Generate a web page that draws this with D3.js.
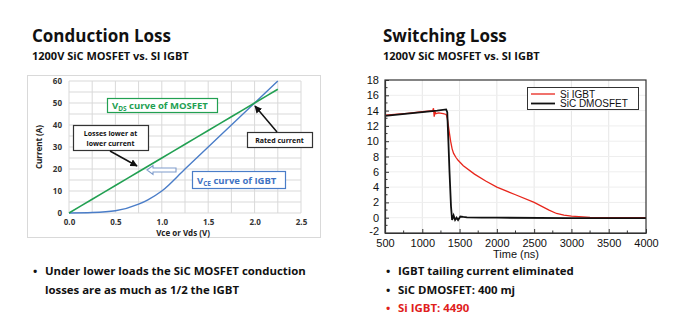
<!DOCTYPE html>
<html><head><meta charset="utf-8">
<script src="https://cdn.jsdelivr.net/npm/d3@7"></script>
<style>
body{margin:0;background:#fff;}
svg{display:block;}
</style></head>
<body>
<svg id="c" width="684" height="323"></svg>
<script>
// ---- Conduction loss data ----
const condX = [0, 0.25, 0.5, 0.75, 0.85, 1.0, 1.25, 1.5, 1.75, 2.0, 2.25];
const mosfetI = [0, 6.25, 12.5, 18.75, 21.25, 25, 31.25, 37.5, 43.75, 50, 56.25];
const igbtI = [0, 0.2, 1.0, 4.0, 6.0, 10, 20, 30, 40, 50, 60];
const condXTicks = [0, 0.5, 1.0, 1.5, 2.0, 2.5];
const condYTicks = [0, 10, 20, 30, 40, 50, 60];

// ---- Switching loss data ----
const igbtT = [500, 800, 1000, 1140, 1150, 1160, 1170, 1180, 1220, 1280, 1320, 1335, 1350, 1365, 1380, 1400, 1420, 1450, 1480, 1550, 1700, 1850, 2000, 2250, 2500, 2700, 2800, 2900, 3000, 3250, 3500, 4000];
const igbtA = [13.4, 13.65, 13.85, 14.0, 14.3, 13.2, 13.9, 13.6, 13.7, 13.6, 13.5, 13.0, 12.0, 11.0, 10.0, 9.0, 8.4, 7.9, 7.5, 6.8, 5.7, 4.8, 4.0, 3.0, 2.0, 1.0, 0.55, 0.35, 0.2, 0.05, 0.0, 0.0];
const sicT = [500, 800, 1000, 1200, 1320, 1335, 1350, 1365, 1385, 1400, 1420, 1440, 1460, 1480, 1510, 1550, 1600, 1800, 2000, 3000, 4000];
const sicA = [13.3, 13.6, 13.8, 14.0, 14.15, 13.8, 10.0, 6.0, 1.5, -0.3, 0.3, -0.3, 0.0, -0.3, 0.15, 0.1, 0.05, 0.0, 0.0, -0.05, -0.05];
const swXTicks = [500, 1000, 1500, 2000, 2500, 3000, 3500, 4000];
const swYTicks = [-2, 0, 2, 4, 6, 8, 10, 12, 14, 16, 18];
const legendNames = ["Si IGBT", "SiC DMOSFET"];

const svg = d3.select("#c");
const TF = "'Open Sans', sans-serif";
const AF = "'Liberation Sans', Arial, sans-serif";

// Titles
svg.append("text").attr("x", 32).attr("y", 42).attr("font-family", TF).attr("font-weight", 700).attr("font-size", 17).attr("fill", "#111").text("Conduction Loss");
svg.append("text").attr("x", 32).attr("y", 60).attr("font-family", TF).attr("font-weight", 700).attr("font-size", 11).attr("fill", "#111").text("1200V SiC MOSFET vs. SI IGBT");
svg.append("text").attr("x", 383).attr("y", 42).attr("font-family", TF).attr("font-weight", 700).attr("font-size", 17).attr("fill", "#111").text("Switching Loss");
svg.append("text").attr("x", 383).attr("y", 60).attr("font-family", TF).attr("font-weight", 700).attr("font-size", 11).attr("fill", "#111").text("1200V SiC MOSFET vs. SI IGBT");

// ---------- Left chart ----------
const L = svg.append("g");
L.append("rect").attr("x", 27.5).attr("y", 75.5).attr("width", 293).attr("height", 162).attr("fill", "#fff").attr("stroke", "#d9d9d9");
const x1 = d3.scaleLinear().domain([0, 2.5]).range([69, 301]);
const y1 = d3.scaleLinear().domain([0, 60]).range([213, 81]);
// grid
L.append("g").selectAll("line").data(d3.range(0, 2.51, 0.25)).join("line")
  .attr("x1", d => x1(d)).attr("x2", d => x1(d)).attr("y1", y1(0)).attr("y2", y1(60))
  .attr("stroke", "#d9d9d9").attr("stroke-width", 1);
L.append("g").selectAll("line").data(d3.range(0, 61, 5)).join("line")
  .attr("x1", x1(0)).attr("x2", x1(2.5)).attr("y1", d => y1(d)).attr("y2", d => y1(d))
  .attr("stroke", "#d9d9d9").attr("stroke-width", 1);
const ax1 = L.append("g").attr("transform", `translate(0,${y1(0)})`)
  .call(d3.axisBottom(x1).tickValues(condXTicks).tickFormat(d3.format(".1f")).tickSize(0).tickPadding(6));
const ay1 = L.append("g").attr("transform", `translate(${x1(0)},0)`)
  .call(d3.axisLeft(y1).tickValues(condYTicks).tickSize(0).tickPadding(7));
[ax1, ay1].forEach(a => {
  a.select(".domain").remove();
  a.selectAll("text").attr("font-family", TF).attr("font-weight", 700).attr("font-size", 8).attr("fill", "#333");
});
L.append("text").attr("x", 183).attr("y", 236).attr("text-anchor", "middle").attr("font-family", TF).attr("font-weight", 700).attr("font-size", 8).attr("fill", "#222").text("Vce or Vds (V)");
L.append("text").attr("transform", "translate(42,147) rotate(-90)").attr("text-anchor", "middle").attr("font-family", TF).attr("font-weight", 700).attr("font-size", 8).attr("fill", "#222").text("Current (A)");

const line1 = (ys) => d3.line().x((d, i) => x1(condX[i])).y((d) => y1(d)).curve(d3.curveMonotoneX)(ys);
L.append("path").attr("d", line1(igbtI)).attr("fill", "none").attr("stroke", "#4a7dc8").attr("stroke-width", 1.4);
L.append("path").attr("d", line1(mosfetI)).attr("fill", "none").attr("stroke", "#22a052").attr("stroke-width", 1.6);

// annotations
const defs = svg.append("defs");
defs.append("marker").attr("id", "ah").attr("viewBox", "0 0 10 10").attr("refX", 9).attr("refY", 5)
  .attr("markerWidth", 5).attr("markerHeight", 5).attr("orient", "auto")
  .append("path").attr("d", "M0,0 L10,5 L0,10 z").attr("fill", "#111");

function box(x, y, w, h, stroke) {
  L.append("rect").attr("x", x + 0.5).attr("y", y + 0.5).attr("width", w).attr("height", h).attr("fill", "#fff").attr("stroke", stroke).attr("stroke-width", 1.2);
}
box(107, 98, 110, 14, "#22a052");
const t1 = L.append("text").attr("x", 112).attr("y", 109).attr("font-family", TF).attr("font-weight", 700).attr("font-size", 9.5).attr("fill", "#22a052");
t1.append("tspan").text("V");
t1.append("tspan").attr("font-size", 6.5).attr("dy", 2).text("DS");
t1.append("tspan").attr("dy", -2).text(" curve of MOSFET");

box(192, 171, 93, 17, "#4a7dc8");
const t2 = L.append("text").attr("x", 197).attr("y", 184).attr("font-family", TF).attr("font-weight", 700).attr("font-size", 9.5).attr("fill", "#3f73c4");
t2.append("tspan").text("V");
t2.append("tspan").attr("font-size", 6.5).attr("dy", 2).text("CE");
t2.append("tspan").attr("dy", -2).text(" curve of IGBT");

box(73, 125, 75, 25, "#333");
L.append("text").attr("x", 110.5).attr("y", 136).attr("text-anchor", "middle").attr("font-family", TF).attr("font-weight", 700).attr("font-size", 7).attr("fill", "#111").text("Losses lower at");
L.append("text").attr("x", 110.5).attr("y", 146).attr("text-anchor", "middle").attr("font-family", TF).attr("font-weight", 700).attr("font-size", 7).attr("fill", "#111").text("lower current");

box(247, 132, 65, 15, "#333");
L.append("text").attr("x", 279.5).attr("y", 143).attr("text-anchor", "middle").attr("font-family", TF).attr("font-weight", 700).attr("font-size", 7).attr("fill", "#111").text("Rated current");

L.append("line").attr("x1", 110).attr("y1", 151).attr("x2", 137).attr("y2", 166).attr("stroke", "#111").attr("stroke-width", 1.5).attr("marker-end", "url(#ah)");
L.append("line").attr("x1", 277).attr("y1", 132).attr("x2", 255).attr("y2", 106).attr("stroke", "#111").attr("stroke-width", 1.5).attr("marker-end", "url(#ah)");
// hollow block arrow
L.append("path").attr("d", "M147,170 L153,165.5 L153,168 L176,168 L176,172 L153,172 L153,174.5 Z")
  .attr("fill", "#fff").attr("stroke", "#7f9ccc").attr("stroke-width", 1.1);

// ---------- Right chart ----------
const R = svg.append("g");
const x2 = d3.scaleLinear().domain([500, 4000]).range([385, 646]);
const y2 = d3.scaleLinear().domain([-2, 18]).range([233, 80]);
R.append("g").selectAll("line").data(swXTicks.slice(1, -1)).join("line")
  .attr("x1", d => x2(d)).attr("x2", d => x2(d)).attr("y1", y2(-2)).attr("y2", y2(18)).attr("stroke", "#e6e6e6");
R.append("g").selectAll("line").data(swYTicks.slice(1, -1)).join("line")
  .attr("y1", d => y2(d)).attr("y2", d => y2(d)).attr("x1", x2(500)).attr("x2", x2(4000)).attr("stroke", "#eeeeee");

const line2 = (xs, ys) => d3.line().x((d, i) => x2(xs[i])).y(d => y2(d))(ys);
R.append("path").attr("d", line2(igbtT, igbtA)).attr("fill", "none").attr("stroke", "#e8261c").attr("stroke-width", 1.3);
R.append("path").attr("d", line2(sicT, sicA)).attr("fill", "none").attr("stroke", "#111").attr("stroke-width", 1.8);

R.append("rect").attr("x", x2(500)).attr("y", y2(18)).attr("width", x2(4000) - x2(500)).attr("height", y2(-2) - y2(18))
  .attr("fill", "none").attr("stroke", "#333").attr("stroke-width", 1.2);

const ax2 = R.append("g").attr("transform", `translate(0,${y2(-2)})`)
  .call(d3.axisBottom(x2).tickValues(swXTicks).tickFormat(d3.format("d")).tickSizeInner(-4).tickSizeOuter(0).tickPadding(6));
const ay2 = R.append("g").attr("transform", `translate(${x2(500)},0)`)
  .call(d3.axisLeft(y2).tickValues(swYTicks).tickFormat(d3.format("d")).tickSizeInner(-4).tickSizeOuter(0).tickPadding(6));
[ax2, ay2].forEach(a => {
  a.select(".domain").attr("stroke", "#333").attr("stroke-width", 1.2);
  a.selectAll(".tick line").attr("stroke", "#333");
  a.selectAll("text").attr("font-family", AF).attr("font-size", 11).attr("fill", "#111");
});
ay2.selectAll("text").text(d => d < 0 ? "-" + Math.abs(d) : d);
ay2.selectAll(".tick").filter(d => d === -2).select("text").attr("dy", "0.1em");
// minor ticks
R.append("g").selectAll("line").data(d3.range(750, 4000, 500)).join("line")
  .attr("x1", d => x2(d)).attr("x2", d => x2(d)).attr("y1", y2(-2)).attr("y2", y2(-2) - 2.5).attr("stroke", "#333");
R.append("g").selectAll("line").data(d3.range(-1, 18, 2)).join("line")
  .attr("y1", d => y2(d)).attr("y2", d => y2(d)).attr("x1", x2(500)).attr("x2", x2(500) + 2.5).attr("stroke", "#333");

R.append("text").attr("x", 516).attr("y", 258).attr("text-anchor", "middle").attr("font-family", AF).attr("font-size", 11).attr("fill", "#111").text("Time (ns)");

// legend
R.append("rect").attr("x", 527.5).attr("y", 87.5).attr("width", 111).attr("height", 22).attr("fill", "#fff").attr("stroke", "#333");
const legColors = ["#e8261c", "#111"];
legendNames.forEach((n, i) => {
  const yy = 94 + i * 9.5;
  R.append("line").attr("x1", 531).attr("x2", 555).attr("y1", yy).attr("y2", yy).attr("stroke", legColors[i]).attr("stroke-width", i ? 1.8 : 1.3);
  R.append("text").attr("x", 560).attr("y", yy + 3.5).attr("font-family", AF).attr("font-size", 10).attr("fill", "#111").text(n);
});

// ---------- Bullets ----------
const bullets = [
  {x: 33, y: 275, t: "Under lower loads the SiC MOSFET conduction", c: "#111", b: true},
  {x: 33, y: 294, t: "losses are as much as 1/2 the IGBT", c: "#111", b: false},
  {x: 386, y: 275, t: "IGBT tailing current eliminated", c: "#111", b: true},
  {x: 386, y: 294, t: "SiC DMOSFET: 400 mj", c: "#111", b: true},
  {x: 386, y: 312, t: "Si IGBT: 4490", c: "#e0201b", b: true}
];
bullets.forEach(d => {
  if (d.b) svg.append("text").attr("x", d.x).attr("y", d.y).attr("font-family", TF).attr("font-weight", 700).attr("font-size", 11.4).attr("fill", d.c).text("•");
  svg.append("text").attr("x", d.x + 12).attr("y", d.y).attr("font-family", TF).attr("font-weight", 700).attr("font-size", 11.4).attr("fill", d.c).text(d.t);
});
</script>
</body></html>
